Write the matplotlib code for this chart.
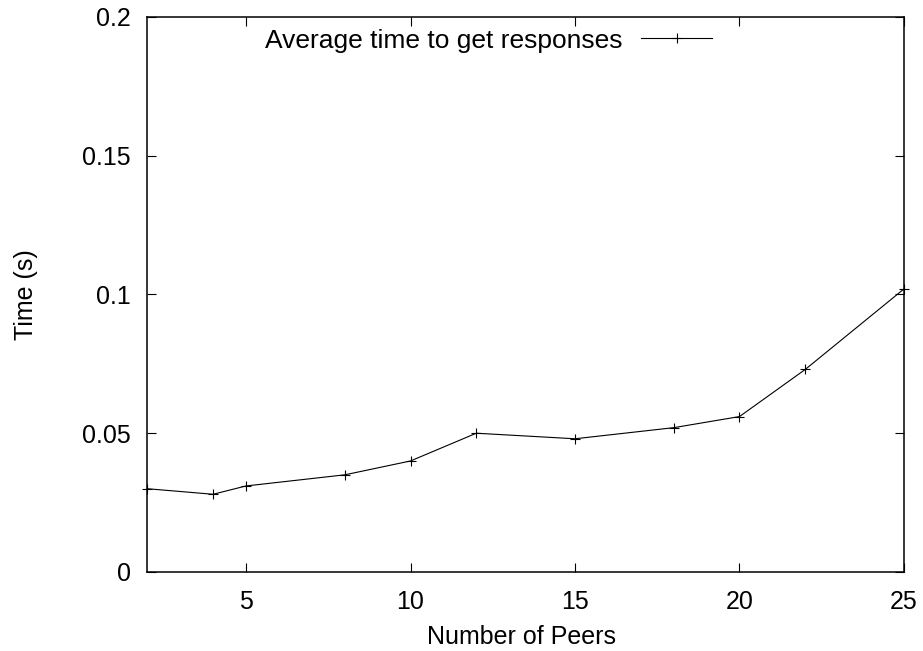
import matplotlib
matplotlib.use('Agg')
import matplotlib.pyplot as plt

# number of peers vs average response time
peers = [2, 4, 5, 8, 10, 12, 15, 18, 20, 22, 25]
avg_time = [0.030, 0.028, 0.031, 0.035, 0.040, 0.050, 0.048, 0.052, 0.056, 0.073, 0.102]

x_ticks = [5, 10, 15, 20, 25]
y_ticks = [0, 0.05, 0.1, 0.15, 0.2]
y_tick_labels = ['0', '0.05', '0.1', '0.15', '0.2']

plt.rcParams['font.family'] = ['Liberation Sans', 'DejaVu Sans']
plt.rcParams['font.size'] = 18

fig = plt.figure(figsize=(9.23, 6.51), dpi=100)
ax = fig.add_axes([0.1596, 0.1214, 0.8198, 0.8525])

ax.plot(peers, avg_time, color='black', linewidth=0.8, marker='+',
        markersize=7.5, markeredgewidth=0.8, clip_on=False,
        label='Average time to get responses')

ax.set_xlim(2, 25)
ax.set_ylim(0, 0.2)
ax.set_xticks(x_ticks)
ax.set_yticks(y_ticks)
ax.set_yticklabels(y_tick_labels)

ax.tick_params(direction='in', length=6.5, width=0.8, top=True, right=True,
               labelsize=18)
ax.tick_params(axis='y', pad=12)
ax.tick_params(axis='x', pad=13)
for s in ax.spines.values():
    s.set_linewidth(1.1)

ax.set_xlabel('Number of Peers', fontsize=18)
ax.set_ylabel('Time (s)', fontsize=18)
ax.xaxis.set_label_coords(0.495, -0.095)
ax.yaxis.set_label_coords(-0.144, 0.5)

ax.legend(loc='upper left', bbox_to_anchor=(0.1555, 0.979), frameon=False,
          markerfirst=False, handlelength=2.7, handletextpad=0.7,
          borderpad=0, borderaxespad=0, fontsize=19)

fig.savefig('out.png', dpi=100)
